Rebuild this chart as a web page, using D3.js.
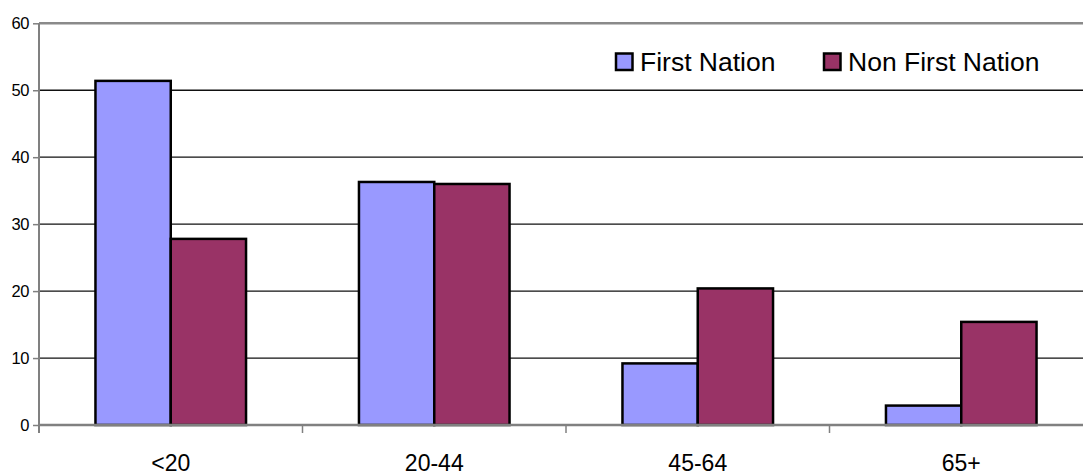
<!DOCTYPE html>
<html>
<head>
<meta charset="utf-8">
<script src="https://cdn.jsdelivr.net/npm/d3@7"></script>
<style>
  html, body { margin: 0; padding: 0; background: #fff; }
  svg { display: block; font-family: "Liberation Sans", Arial, sans-serif; }
</style>
</head>
<body>
<svg id="chart" width="1083" height="475"></svg>
<script>
// Age groups and percentage shares
const categories = ["<20", "20-44", "45-64", "65+"];
const seriesNames = ["First Nation", "Non First Nation"];
const firstNation = [51.4, 36.3, 9.2, 2.9];
const nonFirstNation = [27.8, 36.0, 20.4, 15.4];
const yTicks = [0, 10, 20, 30, 40, 50, 60];
const colors = ["#9999FF", "#993366"];

(function () {
  const svg = d3.select("#chart");

  // Plot area
  const plotLeft = 39, plotRight = 1093, plotTop = 23.3, plotBottom = 425;

  const x0 = d3.scaleBand().domain(categories).range([plotLeft, plotRight]).paddingInner(0).paddingOuter(0);
  const barW = x0.bandwidth() / 3.5;   // two bars plus a 150% gap
  const x1 = d3.scaleBand().domain(seriesNames).range([0, barW * 2]);
  const y = d3.scaleLinear().domain([0, 60]).range([plotBottom, plotTop]);

  // Horizontal gridlines
  svg.append("g")
    .selectAll("line")
    .data(yTicks.filter(t => t > 0 && t < 60))
    .join("line")
    .attr("x1", plotLeft).attr("x2", plotRight)
    .attr("y1", d => y(d)).attr("y2", d => y(d))
    .attr("stroke", "#111").attr("stroke-width", 1.3);

  // Top border of the plot area
  svg.append("line")
    .attr("x1", plotLeft).attr("x2", plotRight)
    .attr("y1", y(60)).attr("y2", y(60))
    .attr("stroke", "#8a8a8a").attr("stroke-width", 2.5);

  // Bars
  const rows = categories.map((c, i) => ({ cat: c, vals: [firstNation[i], nonFirstNation[i]] }));
  const groups = svg.append("g")
    .selectAll("g")
    .data(rows)
    .join("g")
    .attr("transform", d => `translate(${x0(d.cat) + (x0.bandwidth() - barW * 2) / 2},0)`);

  groups.selectAll("rect")
    .data(d => d.vals.map((v, j) => ({ name: seriesNames[j], v, j })))
    .join("rect")
    .attr("x", d => x1(d.name))
    .attr("width", x1.bandwidth())
    .attr("y", d => y(d.v))
    .attr("height", d => y(0) - y(d.v))
    .attr("fill", d => colors[d.j])
    .attr("stroke", "#000")
    .attr("stroke-width", 2.5);

  // Y axis
  const yAxis = d3.axisLeft(y).tickValues(yTicks).tickSize(6).tickPadding(4).tickFormat(d3.format("d"));
  const gy = svg.append("g").attr("transform", `translate(${plotLeft},0)`).call(yAxis);
  gy.select(".domain").attr("stroke", "#808080").attr("stroke-width", 2)
    .attr("d", `M0,${plotTop}V${plotBottom + 8}`);
  gy.selectAll(".tick line").attr("stroke", "#808080").attr("stroke-width", 1.5);
  gy.selectAll(".tick text")
    .attr("font-size", 16.5).attr("fill", "#000")
    .attr("letter-spacing", -0.4)
    .attr("font-family", "Liberation Sans, Arial, sans-serif");

  // X axis
  const xAxis = d3.axisBottom(x0).tickSize(0).tickPadding(0);
  const gx = svg.append("g").attr("transform", `translate(0,${plotBottom})`).call(xAxis);
  gx.select(".domain").attr("stroke", "#808080").attr("stroke-width", 2.5)
    .attr("d", `M${plotLeft},0H${plotRight}`);
  gx.selectAll(".tick text")
    .attr("font-size", 23).attr("fill", "#000")
    .attr("dy", null).attr("y", 46)
    .attr("font-family", "Liberation Sans, Arial, sans-serif");

  // Category boundary ticks
  svg.append("g")
    .selectAll("line")
    .data(d3.range(1, categories.length + 1))
    .join("line")
    .attr("x1", i => plotLeft + x0.bandwidth() * i)
    .attr("x2", i => plotLeft + x0.bandwidth() * i)
    .attr("y1", plotBottom).attr("y2", plotBottom + 8)
    .attr("stroke", "#808080").attr("stroke-width", 1.5);

  // Legend
  const legendX = [615, 823];
  const legend = svg.append("g")
    .selectAll("g")
    .data(seriesNames)
    .join("g")
    .attr("transform", (d, i) => `translate(${legendX[i]},52.5)`);
  legend.append("rect")
    .attr("x", 1).attr("y", 1).attr("width", 16.5).attr("height", 16.5)
    .attr("fill", (d, i) => colors[i])
    .attr("stroke", "#000").attr("stroke-width", 2.5);
  legend.append("text")
    .attr("x", 25).attr("y", 18.3)
    .attr("font-size", 26.5).attr("fill", "#000")
    .text(d => d);
})();
</script>
</body>
</html>
